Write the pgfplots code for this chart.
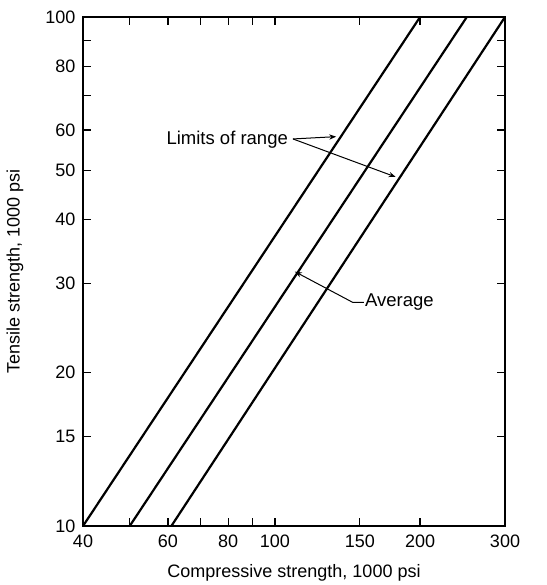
\documentclass[border=0pt]{standalone}
\usepackage{fontspec}
\setmainfont{Liberation Sans}
\usepackage{pgfplots}
\pgfplotsset{compat=1.18}
\usetikzlibrary{arrows.meta}
\begin{document}
\begin{tikzpicture}
\path[use as bounding box] (-83pt,-59pt) rectangle (463pt,526pt);
\begin{axis}[
  anchor=south west, at={(0pt,0pt)},
  scale only axis, width=422pt, height=509pt,
  xmode=log, ymode=log,
  xmin=40, xmax=300, ymin=10, ymax=100,
  xtick={40,50,60,70,80,90,100,150,200,300},
  xticklabels={40,,60,,80,,100,150,200,300},
  ytick={10,15,20,30,40,50,60,70,80,90,100},
  yticklabels={10,15,20,30,40,50,60,,80,,100},
  xminorticks=false, yminorticks=false,
  major tick length=8pt,
  every tick/.style={black, line width=1.2pt},
  axis line style={line width=1.6pt},
  /pgf/number format/assume math mode=true,
  tick label style={font=\fontsize{18}{18}\selectfont},
  xticklabel style={yshift=-5pt},
  yticklabel style={xshift=-4pt},
  label style={font=\fontsize{18}{18}\selectfont},
  xlabel={Compressive strength, 1000 psi},
  ylabel={Tensile strength, 1000 psi},
  xlabel style={at={(axis description cs:0.5,-0.092)}, anchor=center},
  ylabel style={at={(axis description cs:-0.161,0.5)}, anchor=center},
  clip=false,
]
\addplot[black, line width=2.2pt] coordinates {(40,10) (200,100)};
\addplot[black, line width=2.2pt] coordinates {(50,10) (250,100)};
\addplot[black, line width=2.2pt] coordinates {(61,10) (300,100)};
\node[anchor=east, font=\fontsize{18.5}{18}\selectfont, inner sep=1pt] at (axis cs:107,57.3) {Limits of range};
\draw[-{Stealth[length=7pt]}, line width=1pt] (axis cs:109,57.6) -- (axis cs:134,58.2);
\draw[-{Stealth[length=7pt]}, line width=1pt] (axis cs:109,57.6) -- (axis cs:178,48.5);
\node[anchor=west, font=\fontsize{18.5}{18}\selectfont, inner sep=1pt] at (axis cs:153,27.5) {Average};
\draw[-{Stealth[length=7pt]}, line width=1pt] (axis cs:153,27.5) -- (axis cs:145,27.5) -- (axis cs:110,31.6);
\end{axis}
\end{tikzpicture}
\end{document}
